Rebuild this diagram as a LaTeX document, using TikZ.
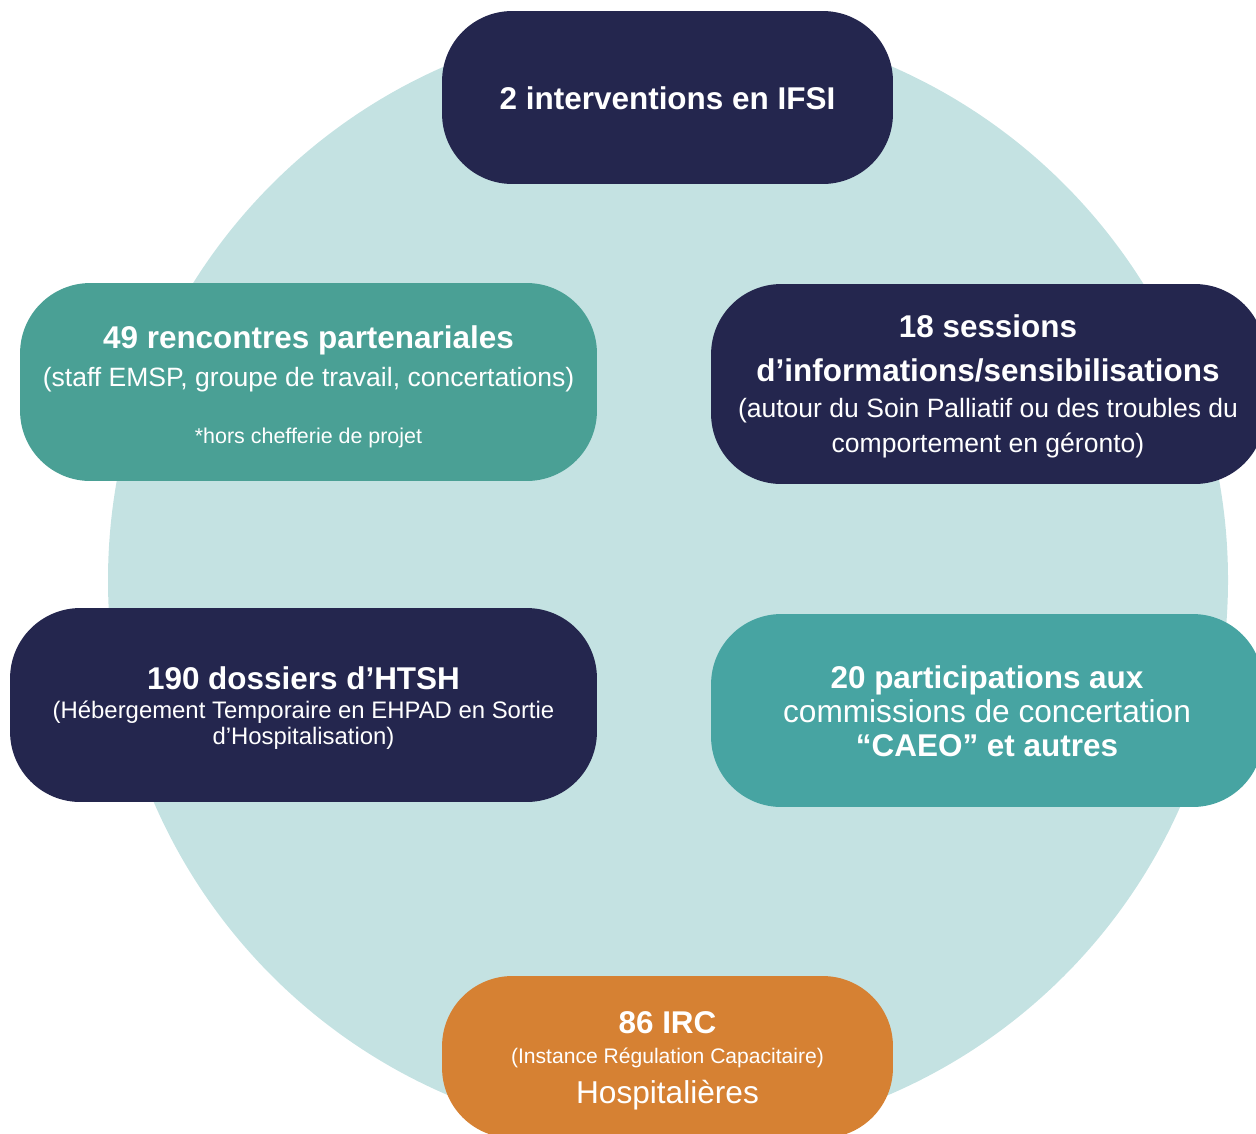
\documentclass[tikz,border=0pt]{standalone}
\usepackage{fontspec}
\setmainfont{Liberation Sans}
\usepackage{tikz}

\definecolor{navy}{HTML}{24264E}
\definecolor{tealA}{HTML}{4AA095}
\definecolor{tealB}{HTML}{47A4A2}
\definecolor{orng}{HTML}{D68133}
\definecolor{disc}{HTML}{C4E2E2}

\newcommand\titre{\fontsize{17.9}{20}\bfseries\selectfont}
\newcommand\texte{\fontsize{15.1}{20}\selectfont}
\newcommand\grand{\fontsize{18}{20}\selectfont}
\newcommand\petit{\fontsize{12.2}{20}\selectfont}

\begin{document}
\begin{tikzpicture}[x=0.02cm, y=-0.02cm,
  bloc/.style={rectangle, rounded corners=40pt, inner sep=0pt},
  inscr/.style={inner sep=0pt, text=white, align=center, font=\fontsize{15}{20}\selectfont}]
%\draw [help lines, step=50](0,0) grid (1256,1133);
\useasboundingbox (0,0) rectangle (1256,1133);
\clip (0,0) rectangle (1256,1133);

\fill [disc] (668,580) circle (560);

\node [bloc, fill=navy, minimum width=9.02cm, minimum height=3.46cm] (ifsi) at (667.5,97.5) {};
\node [inscr] (ifsi-t) at ([yshift=-0.6pt]ifsi.center)
  {\titre 2 interventions en IFSI};

\node [bloc, fill=tealA, minimum width=11.54cm, minimum height=3.96cm] (rencontres) at (308.5,382) {};
\node [inscr] (rencontres-t) at ([yshift=-2.8pt]rencontres.center)
  {\titre 49 rencontres partenariales\\[2pt]
   \texte (staff EMSP, groupe de travail, concertations)\\[12.5pt]
   \petit *hors chefferie de projet};

\node [bloc, fill=navy, minimum width=11.08cm, minimum height=4cm] (sessions) at (988,384) {};
\node [inscr] (sessions-t) at ([yshift=-1.4pt]sessions.center)
  {\titre 18 sessions\\[5pt]
   \titre d’informations/sensibilisations\\[0.5pt]
   \texte (autour du Soin Palliatif ou des troubles du\\
   \texte comportement en géronto)};

\node [bloc, fill=navy, minimum width=11.74cm, minimum height=3.88cm] (htsh) at (303.5,705) {};
\node [inscr] (htsh-t) at ([yshift=-2pt]htsh.center)
  {\titre 190 dossiers d’HTSH\\[-3.5pt]
   \fontsize{13.6}{20}\selectfont (Hébergement Temporaire en EHPAD en Sortie\\[-5.2pt]
   \fontsize{13.6}{20}\selectfont d’Hospitalisation)};

\node [bloc, fill=tealB, minimum width=11.04cm, minimum height=3.86cm] (caeo) at (987,710.5) {};
\node [inscr] (caeo-t) at ([yshift=-0.6pt]caeo.center)
  {\titre 20 participations aux\\[-0.7pt]
   \grand commissions de concertation\\[-0.7pt]
   \titre “CAEO” et autres};

\node [bloc, fill=orng, minimum width=9.02cm, minimum height=3.24cm] (irc) at (667.5,1057) {};
\node [inscr] (irc-t) at ([yshift=-2.3pt]irc.center)
  {\titre 86 IRC\\[-3pt]
   \fontsize{12}{20}\selectfont (Instance Régulation Capacitaire)\\[2.8pt]
   \grand Hospitalières};

\end{tikzpicture}
\end{document}
